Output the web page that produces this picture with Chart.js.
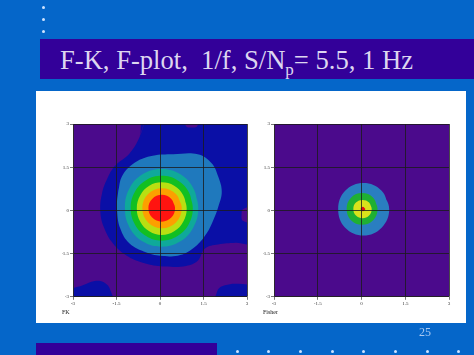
<!DOCTYPE html>
<html>
<head>
<meta charset="utf-8">
<script src="https://cdn.jsdelivr.net/npm/chart.js@4.4.0/dist/chart.umd.min.js"></script>
<style>
  body { margin: 0; width: 474px; height: 355px; background: #0566c9; position: relative; overflow: hidden; font-family: "Liberation Serif", serif; }
  .dot { position: absolute; width: 3px; height: 3px; border-radius: 50%; background: #cfe3ff; }
  #titlebar { position: absolute; left: 40px; top: 39px; width: 434px; height: 40px; background: #330099; }
  #title { position: absolute; left: 60px; top: 45px; font-size: 26.6px; line-height: 30px; color: #ddd6f0; white-space: pre; }
  #title sub { font-size: 17px; vertical-align: -6px; line-height: 0; }
  #panel { position: absolute; left: 36px; top: 91px; width: 430px; height: 232px; background: #fff; }
  #page { position: absolute; left: 419px; top: 325px; font-size: 12px; color: #a9c9f2; }
  #footbar { position: absolute; left: 36px; top: 343px; width: 181px; height: 12px; background: #330099; }
  canvas { position: absolute; }
</style>
</head>
<body>
<div class="dot" style="left:42px;top:6px"></div>
<div class="dot" style="left:42px;top:18px"></div>
<div class="dot" style="left:42px;top:30px"></div>
<div id="titlebar"></div>
<div id="title">F-K, F-plot,  1/f, S/N<sub>p</sub>= 5.5, 1 Hz</div>
<div id="panel"></div>
<div style="position:absolute;left:48px;top:118px;width:202px;height:200px"><canvas id="fk" width="202" height="200"></canvas></div>
<div style="position:absolute;left:249px;top:118px;width:203px;height:200px"><canvas id="fisher" width="203" height="200"></canvas></div>
<div id="page">25</div>
<div id="footbar"></div>
<div class="dot" style="left:236px;top:350px"></div>
<div class="dot" style="left:267px;top:350px"></div>
<div class="dot" style="left:299px;top:350px"></div>
<div class="dot" style="left:331px;top:350px"></div>
<div class="dot" style="left:362px;top:350px"></div>
<div class="dot" style="left:394px;top:350px"></div>
<div class="dot" style="left:426px;top:350px"></div>
<div class="dot" style="left:457px;top:350px"></div>
<script>
// tick values and labels (both axes, both plots)
const tickValues = [-3, -1.5, 0, 1.5, 3];
const tickLabels = ["-3", "-1.5", "0", "1.5", "3"];

// contour colours, outer level first
const fkColors = ["#4b0a8c", "#0a0fa6", "#1f79bd", "#0fa99a", "#12bf22", "#b9df12", "#fca000", "#ff1410"];
const fisherColors = ["#4b0a8c", "#2a7ec0", "#1fb032", "#d9e21c", "#e01212"];

// FK plot contours (slowness x, y)
const fkArea = [[-3.4, -3.4], [3.4, -3.4], [3.4, 3.4], [-3.4, 3.4]];
const fkDarkBlue = [[-0.47, 3.3], [-0.7, 2.56], [-1.05, 1.98], [-1.55, 1.55], [-1.82, 1.1], [-2.0, 0.59], [-2.06, 0.0],
  [-1.94, -0.57], [-1.62, -1.15], [-1.1, -1.6], [-0.47, -1.85], [0.2, -1.95], [0.9, -1.93], [1.3, -1.75],
  [1.55, -1.32], [2.0, -1.18], [2.6, -1.12], [3.3, -1.1], [3.4, 3.4]];
const fkDarkBlueCornerL = [[-3.3, -3.3], [-3.3, -2.86], [-2.66, -2.6], [-2.25, -2.45], [-1.91, -2.51], [-1.71, -2.77], [-1.64, -3.3]];
const fkDarkBlueCornerR = [[1.88, -3.3], [2.0, -2.75], [2.24, -2.6], [2.7, -2.55], [3.3, -2.7], [3.3, -3.3]];
const fkPurpleRight = [[3.3, 0.12], [2.88, 0.06], [2.81, -0.15], [2.86, -0.36], [3.3, -0.42]];
const fkPurpleTop = [[0.84, 3.3], [0.9, 2.92], [1.08, 2.88], [1.28, 2.92], [1.34, 3.3]];
const fkSteel = [[-1.45, 0.59], [-1.3, 1.2], [-0.85, 1.67], [-0.25, 1.9], [0.45, 1.95], [1.3, 1.95], [1.78, 1.64],
  [2.01, 1.17], [2.13, 0.65], [2.01, 0.13], [1.84, -0.33], [1.61, -0.79], [1.21, -1.26], [0.7, -1.55],
  [0.1, -1.58], [-0.47, -1.46], [-1.05, -1.15], [-1.37, -0.63], [-1.48, 0.0]];
const fkTeal = [[1.32, 0.09], [1.15, 0.77], [0.69, 1.26], [0.05, 1.44], [-0.59, 1.26], [-1.05, 0.77], [-1.21, 0.09],
  [-1.05, -0.59], [-0.59, -1.08], [0.05, -1.26], [0.69, -1.08], [1.15, -0.59]];
const fkGreen = [[1.13, 0.08], [0.99, 0.64], [0.6, 1.05], [0.06, 1.2], [-0.48, 1.05], [-0.87, 0.64], [-1.01, 0.08],
  [-0.87, -0.48], [-0.48, -0.89], [0.06, -1.05], [0.6, -0.89], [0.99, -0.48]];
const fkYellow = [[0.92, 0.07], [0.8, 0.53], [0.49, 0.86], [0.06, 0.98], [-0.37, 0.86], [-0.68, 0.53], [-0.8, 0.07],
  [-0.68, -0.39], [-0.37, -0.72], [0.06, -0.85], [0.49, -0.72], [0.8, -0.39]];
const fkOrange = [[0.75, 0.08], [0.55, 0.57], [0.07, 0.77], [-0.41, 0.57], [-0.61, 0.08], [-0.41, -0.42], [0.07, -0.62], [0.55, -0.42]];
const fkRed = [[0.52, 0.08], [0.39, 0.4], [0.06, 0.54], [-0.27, 0.4], [-0.4, 0.08], [-0.27, -0.25], [0.06, -0.39], [0.39, -0.25]];

// Fisher plot contours
const fiArea = [[-3.4, -3.4], [3.4, -3.4], [3.4, 3.4], [-3.4, 3.4]];
const fiSteel = [[0.95, 0.04], [0.69, 0.68], [0.07, 0.95], [-0.56, 0.68], [-0.8, 0.04], [-0.56, -0.6], [0.07, -0.87], [0.69, -0.6]];
const fiGreen = [[0.55, 0.05], [0.4, 0.44], [0.02, 0.6], [-0.36, 0.44], [-0.51, 0.05], [-0.36, -0.34], [0.02, -0.5], [0.4, -0.34]];
const fiYellow = [[0.35, 0.05], [0.26, 0.27], [0.04, 0.36], [-0.19, 0.27], [-0.28, 0.05], [-0.19, -0.18], [0.04, -0.27], [0.26, -0.18]];
const fiRed = [[0.13, 0.05], [0.05, 0.13], [-0.03, 0.05], [0.05, -0.03]];

// turn a list of [x,y] into a filled closed shape
function shape(pts, color, order, smooth) {
  let loop = pts.concat([pts[0], pts[1]]);
  return {
    data: loop.map(p => ({ x: p[0], y: p[1] })),
    showLine: true,
    fill: "shape",
    backgroundColor: color,
    borderWidth: 0,
    pointRadius: 0,
    tension: smooth ? 0.4 : 0,
    order: order
  };
}

function axis() {
  return {
    type: "linear",
    min: -3,
    max: 3,
    afterBuildTicks: a => { a.ticks = tickValues.map(v => ({ value: v })); },
    ticks: {
      callback: (v, i) => tickLabels[i],
      font: { family: "Liberation Serif", size: 5 },
      color: "#333",
      padding: 1,
      maxRotation: 0,
      autoSkip: false
    },
    // grid drawn over the coloured contours
    grid: { z: 1, color: "#1a1a1a", lineWidth: 0.8, tickLength: 3, tickColor: "#555" },
    border: { z: 1, display: true, color: "#333", width: 0.6 }
  };
}

function makeChart(id, name, sets) {
  let xAxis = axis();
  xAxis.afterFit = s => { s.height = 10; };
  let yAxis = axis();
  yAxis.afterFit = s => { s.width = 11; };
  new Chart(document.getElementById(id), {
    type: "scatter",
    data: { datasets: sets },
    options: {
      responsive: false,
      animation: false,
      layout: { padding: { left: 14, right: 3, top: 6, bottom: 0 } },
      scales: { x: xAxis, y: yAxis },
      plugins: {
        legend: { display: false },
        tooltip: { enabled: false },
        title: {
          display: true,
          text: name,
          position: "bottom",
          align: "start",
          color: "#222",
          font: { family: "Liberation Serif", size: 6, weight: "normal" },
          padding: { top: 2, bottom: 2 }
        }
      }
    }
  });
}

makeChart("fk", "FK", [
  shape(fkArea, fkColors[0], 20, false),
  shape(fkDarkBlue, fkColors[1], 19, true),
  shape(fkDarkBlueCornerL, fkColors[1], 18, true),
  shape(fkDarkBlueCornerR, fkColors[1], 18, true),
  shape(fkPurpleRight, fkColors[0], 17, true),
  shape(fkPurpleTop, fkColors[0], 17, true),
  shape(fkSteel, fkColors[2], 16, true),
  shape(fkTeal, fkColors[3], 15, true),
  shape(fkGreen, fkColors[4], 14, true),
  shape(fkYellow, fkColors[5], 13, true),
  shape(fkOrange, fkColors[6], 12, true),
  shape(fkRed, fkColors[7], 11, true)
]);

makeChart("fisher", "Fisher", [
  shape(fiArea, fisherColors[0], 20, false),
  shape(fiSteel, fisherColors[1], 19, true),
  shape(fiGreen, fisherColors[2], 18, true),
  shape(fiYellow, fisherColors[3], 17, true),
  shape(fiRed, fisherColors[4], 16, true)
]);
</script>
</body>
</html>
